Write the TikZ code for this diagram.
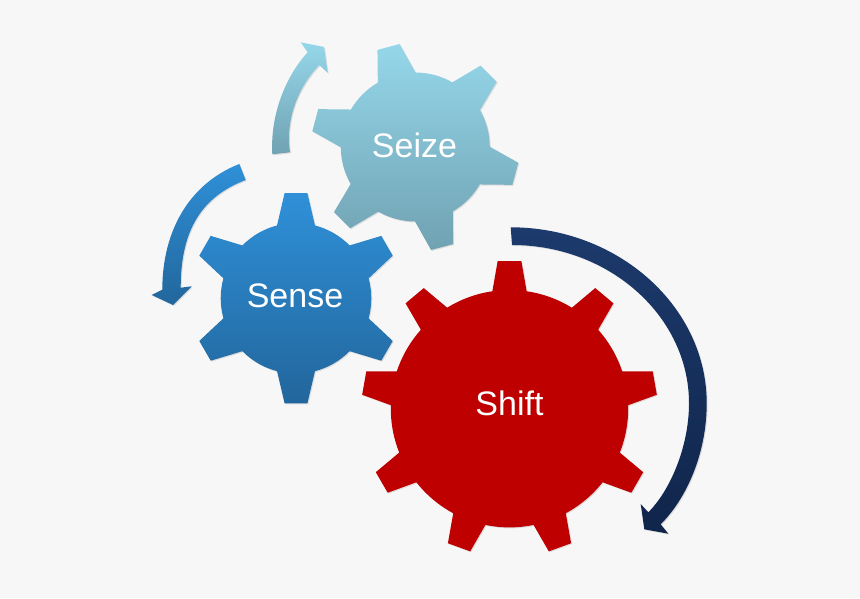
\documentclass[tikz,border=0pt]{standalone}
\usepackage{fontspec}
\setmainfont{Liberation Sans}
\definecolor{backcol}{HTML}{F7F7F8}
\definecolor{seizetop}{HTML}{95D7EA}
\definecolor{seizebot}{HTML}{70A2B2}
\definecolor{sensetop}{HTML}{2F90D8}
\definecolor{sensebot}{HTML}{22669C}
\definecolor{shiftred}{HTML}{BE0000}
\definecolor{shifttop}{HTML}{1C3A6C}
\definecolor{shiftbot}{HTML}{10254A}
% start angle, teeth, root radius, tip radius, root half angle, tip half angle
\newcommand\gearpath[6]{(#1+#5:#3)
  \foreach \i [evaluate=\i as \a using #1-(\i-1)*360/#2] in {1,...,#2}{
    -- (\a+#5:#3) -- (\a+#6:#4) -- (\a-#6:#4) -- (\a-#5:#3)
    arc[start angle=\a-#5, end angle=\a-360/#2+#5, radius=#3]
  } -- cycle}
\newcommand\seizearrow{(272.3,443.7) .. controls (270,484.7) and (286.7,523) .. (307.7,545.7)
    -- (300.7,555.7) -- (324,551) -- (327.7,525.3) -- (319.3,533)
    .. controls (300,513) and (285,481) .. (290,445.7) -- cycle}
\newcommand\sensearrow{(239.3,434) .. controls (190,414.7) and (162.3,368) .. (162.3,308.3)
    -- (151.7,303) -- (173,293) -- (191.7,311.7) -- (180.7,310.3)
    .. controls (180.7,368) and (201.7,401.3) .. (245.7,418) -- cycle}
\newcommand\shiftarrow{(510.7,370.7) .. controls (618.3,370.7) and (706.7,291.3) .. (706.7,194.7)
    .. controls (706.7,144.7) and (686.7,99.7) .. (660.7,73.7)
    -- (668.3,64.3) -- (644.3,68.7) -- (640.7,94) -- (648.3,85.7)
    .. controls (670,107.3) and (689,151.3) .. (689,194.7)
    .. controls (689,281.7) and (609.3,353) .. (512,353) -- cycle}
\begin{document}
\begin{tikzpicture}[x=1pt, y=1pt]
  \tikzstyle{softshadow} = [fill=black, opacity=.1, xshift=1pt, yshift=-1pt]
  \tikzstyle{seizeshade} = [top color=seizetop, bottom color=seizebot]
  \tikzstyle{senseshade} = [top color=sensetop, bottom color=sensebot]
  \tikzstyle{shiftshade} = [top color=shifttop, bottom color=shiftbot]
  \tikzstyle{gearlabel} = [text=white, font=\fontsize{34}{40}\selectfont, inner sep=0pt]
  \fill[backcol] (0,0) rectangle (860,598);
  \useasboundingbox (0,0) rectangle (860,598);
  % shadows
  \fill[softshadow, shift={(415.3,451)}] \gearpath{105}{6}{74.5}{104.2}{15.2}{6.3};
  \fill[softshadow, shift={(296,299.7)}] \gearpath{90}{6}{75.3}{105.7}{14.6}{6.2};
  \fill[softshadow, shift={(509.5,189.3)}] \gearpath{90}{9}{118.7}{148}{8.3}{4.6};
  \fill[softshadow] \seizearrow;
  \fill[softshadow] \sensearrow;
  \fill[softshadow] \shiftarrow;
  % gears
  \shade[seizeshade, shift={(415.3,451)}] \gearpath{105}{6}{74.5}{104.2}{15.2}{6.3};
  \shade[senseshade, shift={(296,299.7)}] \gearpath{90}{6}{75.3}{105.7}{14.6}{6.2};
  \fill[shiftred, shift={(509.5,189.3)}] \gearpath{90}{9}{118.7}{148}{8.3}{4.6};
  % labels
  \node[gearlabel] (seize) at (414.5,453) {Seize};
  \node[gearlabel] (sense) at (295,302) {Sense};
  \node[gearlabel] (shift) at (509.5,195) {Shift};
  % arrows
  \shade[seizeshade] \seizearrow;
  \shade[senseshade] \sensearrow;
  \shade[shiftshade] \shiftarrow;
\end{tikzpicture}
\end{document}
